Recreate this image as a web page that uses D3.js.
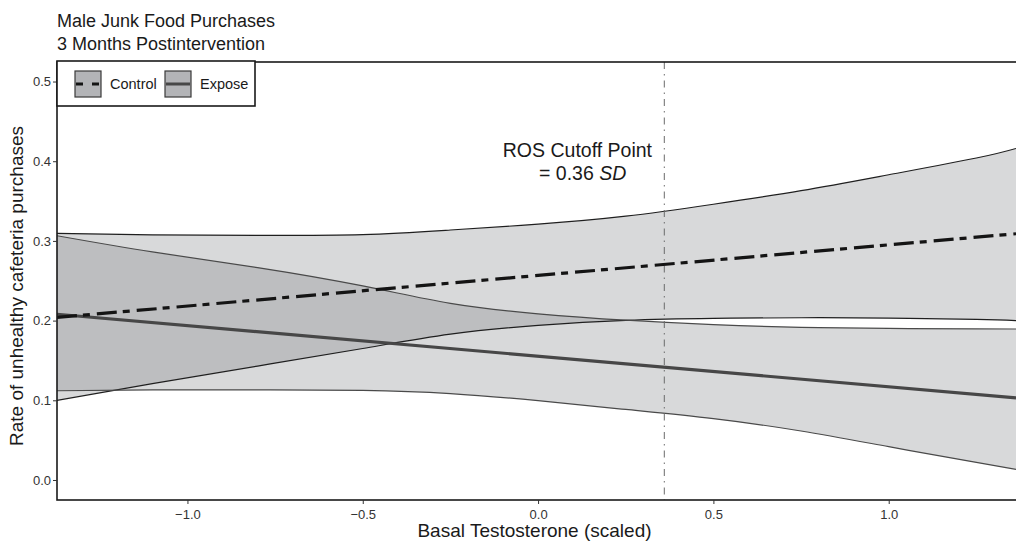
<!DOCTYPE html>
<html>
<head>
<meta charset="utf-8">
<script src="https://cdn.jsdelivr.net/npm/d3@7"></script>
<style>
  body { margin: 0; background: #fff; }
  text { font-family: 'Liberation Sans', Arial, Helvetica, sans-serif; fill: #1a1a1a; }
</style>
</head>
<body>
<div id="chart"></div>
<script>
// values
const xGrid = [-1.372, -1.1, -0.8, -0.5, -0.25, 0, 0.25, 0.5, 0.75, 1.0, 1.25, 1.363]
const controlUpper = [0.3095, 0.3075, 0.307, 0.308, 0.3137, 0.321, 0.331, 0.346, 0.363, 0.383, 0.404, 0.416]
const controlLower = [0.100, 0.121, 0.143, 0.165, 0.183, 0.194, 0.2003, 0.2028, 0.2036, 0.2032, 0.2015, 0.200]
const exposeUpper = [0.3065, 0.2862, 0.2665, 0.2435, 0.2217, 0.2085, 0.2005, 0.195, 0.1916, 0.1902, 0.1896, 0.1895]
const exposeLower = [0.112, 0.113, 0.113, 0.1125, 0.1085, 0.0995, 0.0885, 0.077, 0.0615, 0.0418, 0.022, 0.0134]
const fitX = [-1.372, 1.363]
const controlFit = [0.204, 0.309]
const exposeFit = [0.208, 0.103]
const cutoff = 0.36
const xTicks = [-1.0, -0.5, 0.0, 0.5, 1.0]
const yTicks = [0.0, 0.1, 0.2, 0.3, 0.4, 0.5]
const groups = ['Control', 'Expose']

const width = 1016
const height = 541
const panel = { left: 57, top: 62, right: 1016, bottom: 500 }

const svg = d3.select('#chart')
  .append('svg')
    .attr('width', width)
    .attr('height', height)

const x = d3.scaleLinear()
  .domain([-1.372, 1.363])
  .range([panel.left, panel.right])

const y = d3.scaleLinear()
  .domain([-0.0251, 0.5245])
  .range([panel.bottom, panel.top])

svg.append('clipPath')
    .attr('id', 'clip')
  .append('rect')
    .attr('x', panel.left)
    .attr('y', panel.top)
    .attr('width', panel.right - panel.left + 10)
    .attr('height', panel.bottom - panel.top)

const plot = svg.append('g').attr('clip-path', 'url(#clip)')

const band = (upper, lower) => xGrid.map((d, i) => ({ x: d, hi: upper[i], lo: lower[i] }))

const area = d3.area()
  .x(d => x(d.x))
  .y0(d => y(d.lo))
  .y1(d => y(d.hi))
  .curve(d3.curveNatural)

const edge = key => d3.line()
  .x(d => x(d.x))
  .y(d => y(d[key]))
  .curve(d3.curveNatural)

const bands = [
  { data: band(controlUpper, controlLower), stroke: '#1f1f1f' },
  { data: band(exposeUpper, exposeLower), stroke: '#4a4a4a' },
]

// ribbons
bands.forEach(b => {
  plot.append('path')
    .attr('d', area(b.data))
    .attr('fill', '#7f8085')
    .attr('fill-opacity', 0.3)
})

bands.forEach(b => {
  ;['hi', 'lo'].forEach(k => {
    plot.append('path')
      .attr('d', edge(k)(b.data))
      .attr('fill', 'none')
      .attr('stroke', b.stroke)
      .attr('stroke-width', 1.2)
  })
})

// cutoff line
plot.append('line')
  .attr('x1', x(cutoff))
  .attr('x2', x(cutoff))
  .attr('y1', panel.top)
  .attr('y2', panel.bottom)
  .attr('stroke', '#6b6b6b')
  .attr('stroke-width', 1)
  .attr('stroke-dasharray', '7 5 1.5 5')

// fitted lines
const fitLine = d3.line()
  .x(d => x(d.x))
  .y(d => y(d.y))

plot.append('path')
  .attr('d', fitLine(fitX.map((d, i) => ({ x: d, y: exposeFit[i] }))))
  .attr('fill', 'none')
  .attr('stroke', '#474747')
  .attr('stroke-width', 3.2)

plot.append('path')
  .attr('d', fitLine(fitX.map((d, i) => ({ x: d, y: controlFit[i] }))))
  .attr('fill', 'none')
  .attr('stroke', '#141414')
  .attr('stroke-width', 3.2)
  .attr('stroke-dasharray', '20 6 7 7')

// annotation
svg.append('text')
  .attr('x', 652)
  .attr('y', 157)
  .attr('text-anchor', 'end')
  .style('font-size', '19.5px')
  .text('ROS Cutoff Point')
const note2 = svg.append('text')
  .attr('x', 539)
  .attr('y', 180)
  .style('font-size', '19.5px')
note2.append('tspan').text('= ' + cutoff.toFixed(2) + ' ')
note2.append('tspan').style('font-style', 'italic').text('SD')

// panel border
svg.append('rect')
  .attr('x', panel.left)
  .attr('y', panel.top)
  .attr('width', panel.right - panel.left + 10)
  .attr('height', panel.bottom - panel.top)
  .attr('fill', 'none')
  .attr('stroke', '#1a1a1a')
  .attr('stroke-width', 1.6)

// axes
const xAxis = svg.append('g')
  .attr('transform', `translate(0, ${panel.bottom})`)
  .call(d3.axisBottom(x).tickValues(xTicks).tickSize(4).tickSizeOuter(0).tickFormat(d => d3.format('.1f')(d).replace('-', '\u2212')))
xAxis.select('.domain').remove()
xAxis.selectAll('line').attr('stroke', '#333')
xAxis.selectAll('text')
  .attr('dy', null)
  .attr('y', 19)
  .style('font-size', '13px')
  .style('fill', '#333')

const yAxis = svg.append('g')
  .attr('transform', `translate(${panel.left}, 0)`)
  .call(d3.axisLeft(y).tickValues(yTicks).tickSize(4).tickSizeOuter(0).tickFormat(d3.format('.1f')))
yAxis.select('.domain').remove()
yAxis.selectAll('line').attr('stroke', '#333')
yAxis.selectAll('text')
  .attr('x', -6)
  .style('font-size', '13px')
  .style('fill', '#333')

// titles
svg.append('text')
  .attr('x', panel.left)
  .attr('y', 27)
  .style('font-size', '18px')
  .text('Male Junk Food Purchases')
svg.append('text')
  .attr('x', panel.left)
  .attr('y', 50)
  .style('font-size', '18px')
  .text('3 Months Postintervention')

svg.append('text')
  .attr('x', (panel.left + panel.right) / 2 - 2)
  .attr('y', 537)
  .attr('text-anchor', 'middle')
  .style('font-size', '19px')
  .text('Basal Testosterone (scaled)')

svg.append('text')
  .attr('transform', `translate(23, ${(panel.top + panel.bottom) / 2 + 5}) rotate(-90)`)
  .attr('text-anchor', 'middle')
  .style('font-size', '19px')
  .text('Rate of unhealthy cafeteria purchases')

// legend
const legend = svg.append('g')
legend.append('rect')
  .attr('x', 57)
  .attr('y', 61)
  .attr('width', 198)
  .attr('height', 45)
  .attr('fill', '#fff')
  .attr('stroke', '#1a1a1a')
  .attr('stroke-width', 1.6)

const keyX = [75, 165]
groups.forEach((g, i) => {
  legend.append('rect')
    .attr('x', keyX[i])
    .attr('y', 71)
    .attr('width', 26)
    .attr('height', 26)
    .attr('fill', '#b3b4b7')
    .attr('stroke', '#3a3a3a')
    .attr('stroke-width', 1.2)
  legend.append('line')
    .attr('x1', keyX[i] + 1)
    .attr('x2', keyX[i] + 25)
    .attr('y1', 84)
    .attr('y2', 84)
    .attr('stroke', i === 0 ? '#141414' : '#474747')
    .attr('stroke-width', 3)
    .attr('stroke-dasharray', i === 0 ? '7 9' : null)
  legend.append('text')
    .attr('x', keyX[i] + 35)
    .attr('y', 89)
    .style('font-size', '14.5px')
    .text(g)
})
</script>
</body>
</html>
